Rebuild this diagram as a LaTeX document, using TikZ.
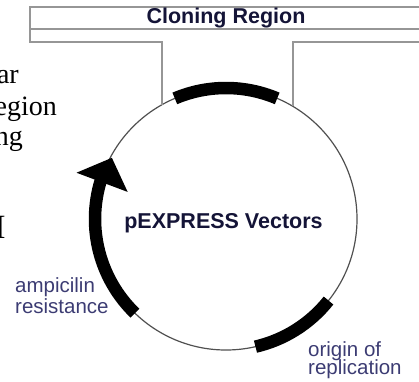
\documentclass[tikz,border=0pt]{standalone}
\usepackage{fontspec}
\setmainfont{Liberation Serif}
\setsansfont{Liberation Sans}
\definecolor{framegray}{RGB}{150,150,150}
\definecolor{ringgray}{RGB}{80,80,80}
\definecolor{titleink}{RGB}{20,20,55}
\definecolor{labelink}{RGB}{60,60,115}
\begin{document}
\begin{tikzpicture}[x=1pt,y=1pt,
  frameline/.style={draw=framegray,line width=1.4pt},
  ring/.style={draw=ringgray,line width=1.2pt},
  gene/.style={draw=black,line width=12.5pt,line cap=butt},
  title/.style={font=\sffamily\bfseries\fontsize{21.5}{24}\selectfont,text=titleink,inner sep=0pt},
  tag/.style={font=\sffamily\fontsize{20.5}{22}\selectfont,text=labelink,inner sep=0pt,anchor=base west},
  sidetext/.style={font=\fontsize{28}{32}\selectfont,inner sep=0pt,anchor=base east}]
\useasboundingbox (0,0) rectangle (419,381);

% plasmid backbone
\coordinate (c) at (226,162);
\node (plasmid) [circle,ring,minimum size=262pt,inner sep=0pt] at (c) {};
\node (name) [title,anchor=base] at (223.5,153) {pEXPRESS Vectors};

% points where the cloning-region bracket meets the ring
\coordinate (cl) at ([shift={(c)}]119.2:131);
\coordinate (cr) at ([shift={(c)}]59.2:131);
\coordinate (bandtop) at (0,374);
\coordinate (bandmid) at (0,352);
\coordinate (bandbot) at (0,339);

% cloning-region bracket
\draw[frameline] (cl) -- (cl |- bandbot) -- (30,339) -- (30,374) -- (425,374);
\draw[frameline] (30,352) -- (425,352);
\draw[frameline] (cr) -- (cr |- bandbot) -- (425,339);
\node (cloning) [title,anchor=base] at (226,357) {Cloning Region};

% features on the ring
\draw[gene] ([shift={(c)}]67:131) arc[start angle=67,end angle=113,radius=131];
\draw[gene] ([shift={(c)}]-77:131) arc[start angle=-77,end angle=-38.5,radius=131];
\draw[gene] ([shift={(c)}]226:131) arc[start angle=226,end angle=163,radius=131];
\fill[black] ([shift={(c)}]162.8:156.5) -- ([shift={(c)}]151.8:129.5)
  -- ([shift={(c)}]164.6:102) -- cycle;

% feature labels
\node (amp1) [tag] at (15,89) {ampicilin};
\node (amp2) [tag] at (15,68) {resistance};
\node (ori1) [tag] at (308,25) {origin of};
\node (ori2) [tag] at (308,6.5) {replication};

% text running in from the left margin
\node (frag1) [sidetext] at (19,298) {ar};
\node (frag2) [sidetext] at (57,266) {egion};
\node (frag3) [sidetext] at (23,236) {ng};
\node (frag4) [sidetext,font=\fontsize{34}{38}\selectfont] at (6,143) {I};
\end{tikzpicture}
\end{document}
